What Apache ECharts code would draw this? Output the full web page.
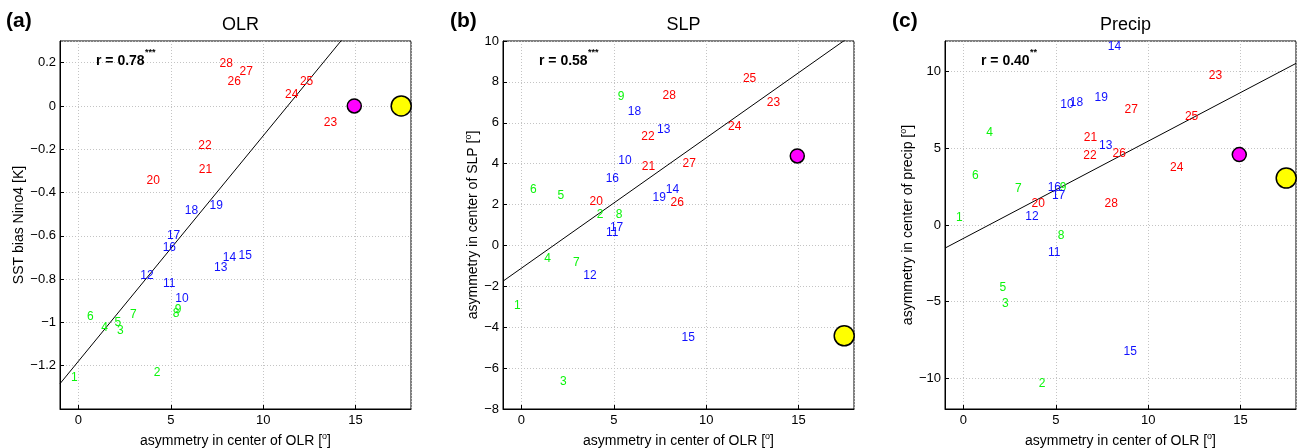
<html>
<head>
<meta charset="utf-8" />
<title>OLR / SLP / Precip asymmetry</title>
<script src="https://cdn.jsdelivr.net/npm/echarts@6/dist/echarts.min.js"></script>
<style>
  body { margin: 0; background: #fff; }
  #chart { width: 1297px; height: 448px; }
</style>
</head>
<body>
<div id="chart"></div>
<script type="text/javascript">
// model numbers, as printed on the chart
var modelIds = [1, 2, 3, 4, 5, 6, 7, 8, 9, 10, 11, 12, 13, 14, 15, 16, 17, 18, 19, 20, 21, 22, 23, 24, 25, 26, 27, 28];
// models 1-9 green, 10-19 blue, 20-28 red
var groupStart = [0, 9, 19];
var groupEnd = [9, 19, 28];
var groupColors = ['#0bf50b', '#1010ff', '#ff0000'];

// x: asymmetry in center of OLR [deg]
var xAsym = [-0.23, 4.26, 2.26, 1.41, 2.13, 0.64, 2.97, 5.29, 5.39, 5.6, 4.91, 3.71, 7.7, 8.17,
             9.03, 4.92, 5.15, 6.12, 7.46, 4.05, 6.87, 6.85, 13.64, 11.54, 12.35, 8.43, 9.08, 8.0];
// y values of each panel
var yOLR = [-1.256, -1.23, -1.038, -1.026, -1.003, -0.972, -0.965, -0.96, -0.941, -0.892, -0.82, -0.782,
            -0.749, -0.703, -0.691, -0.657, -0.599, -0.484, -0.461, -0.346, -0.293, -0.184, -0.078,
            0.051, 0.112, 0.112, 0.159, 0.195];
var ySLP = [-2.95, 1.52, -6.68, -0.67, 2.43, 2.74, -0.82, 1.52, 7.27, 4.14, 0.64, -1.5, 5.67, 2.74,
            -4.5, 3.26, 0.87, 6.53, 2.35, 2.16, 3.87, 5.33, 6.97, 5.8, 8.14, 2.11, 4.0, 7.31];
var yPrecip = [0.49, -10.34, -5.14, 6.02, -4.1, 3.23, 2.34, -0.68, 2.41, 7.84, -1.78, 0.56, 5.18, 11.61,
               -8.28, 2.41, 1.93, 8.0, 8.3, 1.37, 5.72, 4.53, 9.73, 3.75, 7.06, 4.62, 7.54, 1.37];

// observation markers (magenta, yellow)
var obsX = [14.93, 17.47];
var obsOLR = [0, 0];
var obsSLP = [4.38, -4.42];
var obsPrecip = [4.59, 3.06];
var obsColors = ['#ff00ff', '#ffff00'];
var obsSizes = [14, 20];

// regression line end points
var fitOLR = [[-1, -1.283], [18, 0.695]];
var fitSLP = [[-1, -1.747], [18, 10.36]];
var fitPrecip = [[-1, -1.507], [18, 10.54]];

var rText = ['r = 0.78', 'r = 0.58', 'r = 0.40'];
var rStars = ['***', '***', '**'];
var panelTitles = ['OLR', 'SLP', 'Precip'];
var panelTags = ['(a)', '(b)', '(c)'];
var yNames = ['SST bias Nino4 [K]', 'asymmetry in center of SLP [{sup|o}]', 'asymmetry in center of precip [{sup|o}]'];

var FONT = 'Liberation Sans, Arial, Helvetica, sans-serif';
var gridLefts = [60, 503, 945];
var gridW = 351, gridTop = 41, gridH = 368;

function fmt(v) {
    var s = String(+v.toFixed(2));
    return s.replace('-', '\u2212');
}

var supRich = { sup: { fontSize: 9, fontFamily: FONT, color: '#000', padding: [0, 0, 10, 0] } };

function xAxisFor(i) {
    return {
        type: 'value', gridIndex: i, min: -1, max: 18, splitNumber: 4,
        name: 'asymmetry in center of OLR [{sup|o}]', nameLocation: 'middle', nameGap: 16,
        nameTextStyle: { fontFamily: FONT, fontSize: 14, color: '#000', rich: supRich },
        axisLine: { show: true, onZero: false, lineStyle: { color: '#000', width: 1 } },
        axisTick: { show: true, inside: true, length: 4, lineStyle: { color: '#000' } },
        axisLabel: { fontFamily: FONT, fontSize: 13, color: '#000', margin: 5,
                     showMinLabel: false, showMaxLabel: false, formatter: fmt },
        splitLine: { show: true, lineStyle: { color: '#c4c4c4', type: [1, 2], width: 1 } }
    };
}

function yAxisFor(i, min, max, extra, gap) {
    var ax = {
        type: 'value', gridIndex: i, min: min, max: max,
        name: yNames[i], nameLocation: 'middle', nameGap: gap,
        nameTextStyle: { fontFamily: FONT, fontSize: 14, color: '#000', rich: supRich },
        axisLine: { show: true, onZero: false, lineStyle: { color: '#000', width: 1 } },
        axisTick: { show: true, inside: true, length: 4, lineStyle: { color: '#000' } },
        axisLabel: { fontFamily: FONT, fontSize: 13, color: '#000', margin: 4, formatter: fmt },
        splitLine: { show: true, lineStyle: { color: '#c4c4c4', type: [1, 2], width: 1 } }
    };
    for (var k in extra) ax[k] = extra[k];
    return ax;
}

function panelSeries(i, ys, obsY, fit) {
    var out = [];
    out.push({
        type: 'line', xAxisIndex: i, yAxisIndex: i, data: fit, symbol: 'none', clip: true,
        lineStyle: { color: '#000', width: 1 }, silent: true, z: 2
    });
    for (var g = 0; g < 3; g++) {
        var pts = [];
        for (var j = groupStart[g]; j < groupEnd[g]; j++) {
            pts.push([xAsym[j], ys[j], modelIds[j]]);
        }
        out.push({
            type: 'scatter', xAxisIndex: i, yAxisIndex: i, data: pts, symbolSize: 1,
            itemStyle: { color: groupColors[g], opacity: 0 }, z: 3,
            label: { show: true, position: 'inside', color: groupColors[g], opacity: 1,
                     textBorderWidth: 0, textBorderColor: 'transparent',
                     fontFamily: FONT, fontSize: 12,
                     formatter: function (p) { return String(p.value[2]); } }
        });
    }
    for (var m = 0; m < obsX.length; m++) {
        out.push({
            type: 'scatter', xAxisIndex: i, yAxisIndex: i, data: [[obsX[m], obsY[m]]],
            symbolSize: obsSizes[m], clip: false, z: 4,
            itemStyle: { color: obsColors[m], borderColor: '#000', borderWidth: 1.5, opacity: 1 }
        });
    }
    return out;
}

var chart = echarts.init(document.getElementById('chart'), null, { renderer: 'canvas' });

var grids = [], titles = [], graphics = [];
for (var i = 0; i < 3; i++) {
    grids.push({ left: gridLefts[i], top: gridTop, width: gridW, height: gridH, show: true,
                 borderColor: '#000', borderWidth: 1, backgroundColor: '#fff', containLabel: false,
                 outerBoundsMode: 'none' });
    titles.push({ text: panelTitles[i], left: gridLefts[i] + gridW / 2, top: 11, textAlign: 'center',
                  textStyle: { fontFamily: FONT, fontSize: 18, fontWeight: 'normal', color: '#000' } });
    graphics.push({ type: 'text', left: gridLefts[i] - 53, top: 11,
                    style: { text: panelTags[i], font: 'bold 21px ' + FONT, fill: '#000' } });
    graphics.push({ type: 'text', left: gridLefts[i] + 36, top: 54, z: 10,
                    style: { text: rText[i], font: 'bold 14px ' + FONT, fill: '#000' } });
    graphics.push({ type: 'text', left: gridLefts[i] + 85, top: 48, z: 10,
                    style: { text: rStars[i], font: 'bold 9px ' + FONT, fill: '#000' } });
}
graphics[0].left = 6;

var series = []
    .concat(panelSeries(0, yOLR, obsOLR, fitOLR))
    .concat(panelSeries(1, ySLP, obsSLP, fitSLP))
    .concat(panelSeries(2, yPrecip, obsPrecip, fitPrecip));

var option = {
    backgroundColor: '#fff',
    animation: false,
    title: titles,
    grid: grids,
    xAxis: [xAxisFor(0), xAxisFor(1), xAxisFor(2)],
    yAxis: [
        yAxisFor(0, -1.4, 0.3, { interval: 0.2, axisLabel: { fontFamily: FONT, fontSize: 13, color: '#000', margin: 4,
                 showMinLabel: false, showMaxLabel: false, formatter: fmt } }, 31),
        yAxisFor(1, -8, 10, { interval: 2 }, 19),
        yAxisFor(2, -12, 12, { splitNumber: 5, axisLabel: { fontFamily: FONT, fontSize: 13, color: '#000', margin: 4,
                 showMinLabel: false, showMaxLabel: false, formatter: fmt } }, 27)
    ],
    graphic: graphics,
    series: series
};
chart.setOption(option);
</script>
</body>
</html>
